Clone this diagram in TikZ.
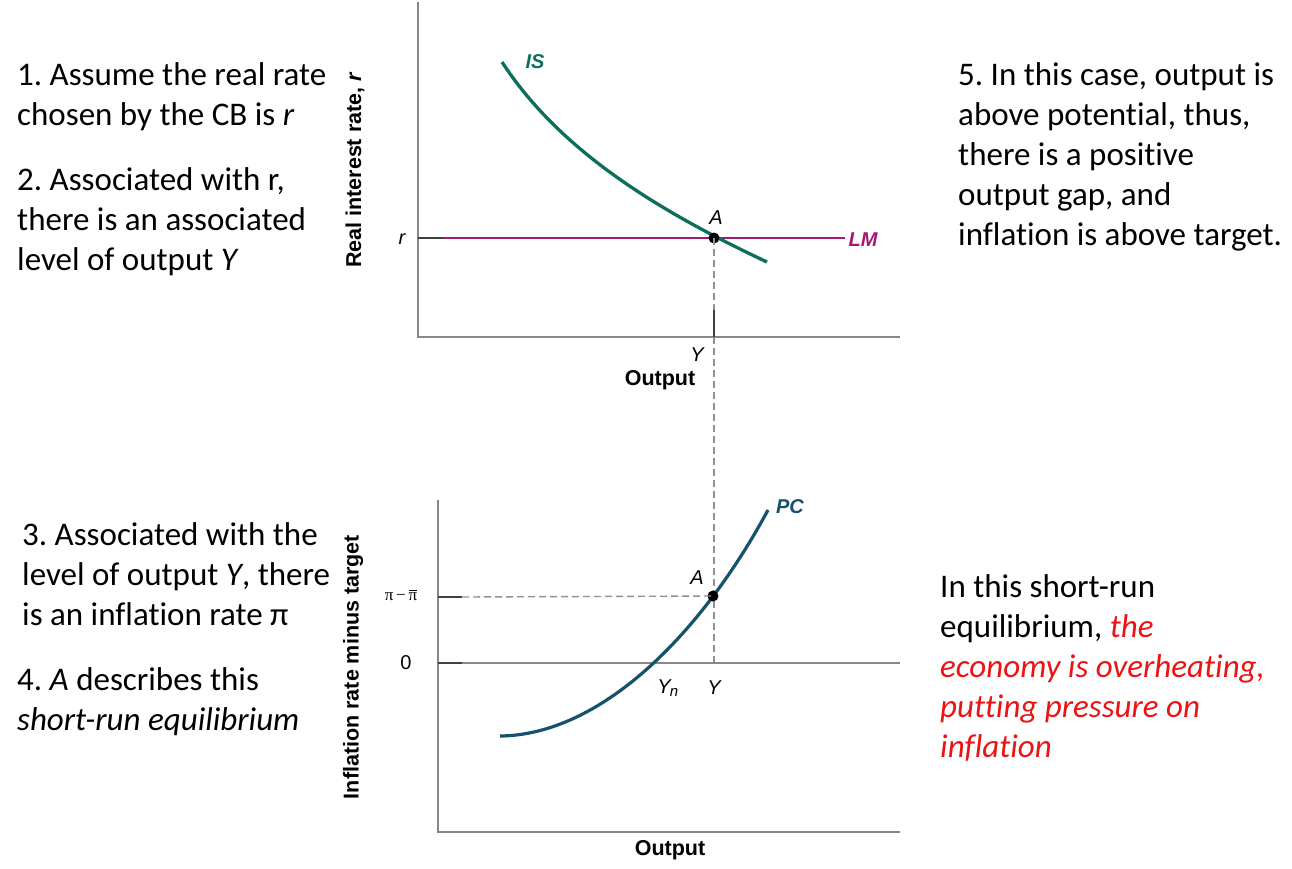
\documentclass[tikz,border=0pt]{standalone}
\usepackage{fontspec}
\setmainfont{Carlito}[Ligatures={NoCommon}]
\newfontfamily\gf{Liberation Sans}
\newfontfamily\gsf{Liberation Serif}
\definecolor{isc}{RGB}{14,110,92}
\definecolor{lmc}{RGB}{165,25,115}
\definecolor{pcc}{RGB}{22,82,108}
\definecolor{axc}{RGB}{135,135,135}
\definecolor{dashc}{RGB}{145,145,145}
\definecolor{redt}{RGB}{235,20,20}
\frenchspacing
\begin{document}
\begin{tikzpicture}[x=1pt,y=-1pt,
  txt/.style={anchor=base west,inner sep=0pt,font=\fontsize{33}{40}\selectfont},
  axis/.style={draw=axc,line width=1.3pt},
  tickm/.style={draw=black!75,line width=1.3pt},
  dsh/.style={draw=dashc,line width=1.4pt,dash pattern=on 7pt off 4pt},
  glab/.style={inner sep=0pt,font=\gf\fontsize{20}{22}\selectfont\itshape},
  blab/.style={inner sep=0pt,font=\gf\fontsize{21.5}{24}\selectfont\bfseries},
  clab/.style={inner sep=0pt,font=\gf\fontsize{20}{22}\selectfont\bfseries\itshape},
  dot/.style={circle,fill=black,inner sep=0pt,minimum size=11pt}]
\useasboundingbox (0,0) rectangle (1292,868);
\fill[white] (0,0) rectangle (1292,868);

% ---------- left texts ----------
\node[txt] (l1) at (17,85) {1. Assume the real rate};
\node[txt] (l2) at (17,125) {chosen by the CB is \textit{r}};
\node[txt] (l3) at (17,190) {2. Associated with r,};
\node[txt] (l4) at (17,230) {there is an associated};
\node[txt] (l5) at (17,270) {level of output \textit{Y}};
\node[txt] (l6) at (22,545) {3. Associated with the};
\node[txt] (l7) at (22,585) {level of output \textit{Y}, there};
\node[txt] (l8) at (22,625) {is an inflation rate π};
\node[txt] (l9) at (17,690) {4. \textit{A} describes this};
\node[txt] (l10) at (17,730) {\textit{short-run equilibrium}};

% ---------- right texts ----------
\node[txt] (r1) at (958,85) {5. In this case, output is};
\node[txt] (r2) at (958,125) {above potential, thus,};
\node[txt] (r3) at (958,165) {there is a positive};
\node[txt] (r4) at (958,205) {output gap, and};
\node[txt] (r5) at (958,245) {inflation is above target.};
\node[txt] (s1) at (940,597) {In this short-run};
\node[txt] (s2) at (940,637) {equilibrium, \textcolor{redt}{\textit{the}}};
\node[txt,text=redt] (s3) at (940,677) {\textit{economy is overheating,}};
\node[txt,text=redt] (s4) at (940,717) {\textit{putting pressure on}};
\node[txt,text=redt] (s5) at (940,757) {\textit{inflation}};

% ---------- top graph ----------
\coordinate (tO) at (418,337);
\coordinate (tTop) at (418,2);
\coordinate (tRight) at (900,337);
\draw[axis] (tTop) -- (tO) -- (tRight);
\coordinate (rL) at (418,238);
\coordinate (rT) at (443,238);
\coordinate (lmE) at (845,238);
\draw[tickm] (rL) -- (rT);
\draw[draw=lmc,line width=2.6pt] (rT) -- (lmE);
\coordinate (is0) at (502,62);
\coordinate (is1) at (767,262);
\draw[draw=isc,line width=3.3pt] (is0) .. controls (558,148) and (652,208) .. (is1);
\node[dot] (Atop) at (714,238) {};
\coordinate (yk1) at (714,310);
\coordinate (yk2) at (714,337);
\coordinate (bZ) at (714,663);
\draw[dsh] (Atop.center) -- (yk1);
\draw[draw=black!75,line width=1.3pt] (yk1) -- (yk2);
\draw[dsh] (yk2) -- (bZ);

\node[clab,text=isc] (IS) at (535,62) {IS};
\node[clab,text=lmc] (LM) at (863,240) {LM};
\node[glab] (rlab) at (402,239) {r};
\node[glab] (Alab1) at (716,218) {A};
\node[glab] (Ylab1) at (697,355) {Y};
\node[blab] (out1) at (660,380) {Output};
\node[blab,rotate=90] (ylab1) at (355,170) {Real interest rate, \textit{r}};

% ---------- bottom graph ----------
\coordinate (bO) at (438,832);
\coordinate (bTop) at (438,500);
\coordinate (bRight) at (900,832);
\draw[axis] (bTop) -- (bO) -- (bRight);
\coordinate (zL) at (438,663);
\coordinate (zT) at (462,663);
\coordinate (zR) at (900,663);
\draw[tickm] (zL) -- (zT);
\draw[draw=axc,line width=1.3pt] (zT) -- (zR);
\coordinate (pL) at (438,597);
\coordinate (pT) at (462,597);
\draw[tickm] (pL) -- (pT);
\coordinate (pc0) at (500,736);
\coordinate (pc1) at (768,510);
\draw[draw=pcc,line width=3.2pt] (pc0) .. controls (600,735) and (700,636) .. (pc1);
\node[dot] (Abot) at (713,596) {};
\draw[dsh] (pT) -- (Abot.center);

\node[clab,text=pcc] (PC) at (790,507) {PC};
\node[glab] (Alab2) at (697,578) {A};
\node[glab] (Yn) at (668,688) {Y\textsubscript{\kern-1pt\fontsize{15}{15}\selectfont n}};
\node[glab] (Ylab2) at (714,688) {Y};
\node[inner sep=0pt,font=\gsf\fontsize{17}{17}\selectfont] (pilab) at (401,597)
  {π\,−\,\ooalign{π\cr\hidewidth\rule[10pt]{8pt}{1pt}\hidewidth\cr}};
\node[inner sep=0pt,font=\gf\fontsize{20}{22}\selectfont] (zero) at (406,663) {0};
\node[blab] (out2) at (670,850) {Output};
\node[blab,rotate=90] (ylab2) at (353,667) {Inflation rate minus target};
\end{tikzpicture}
\end{document}
